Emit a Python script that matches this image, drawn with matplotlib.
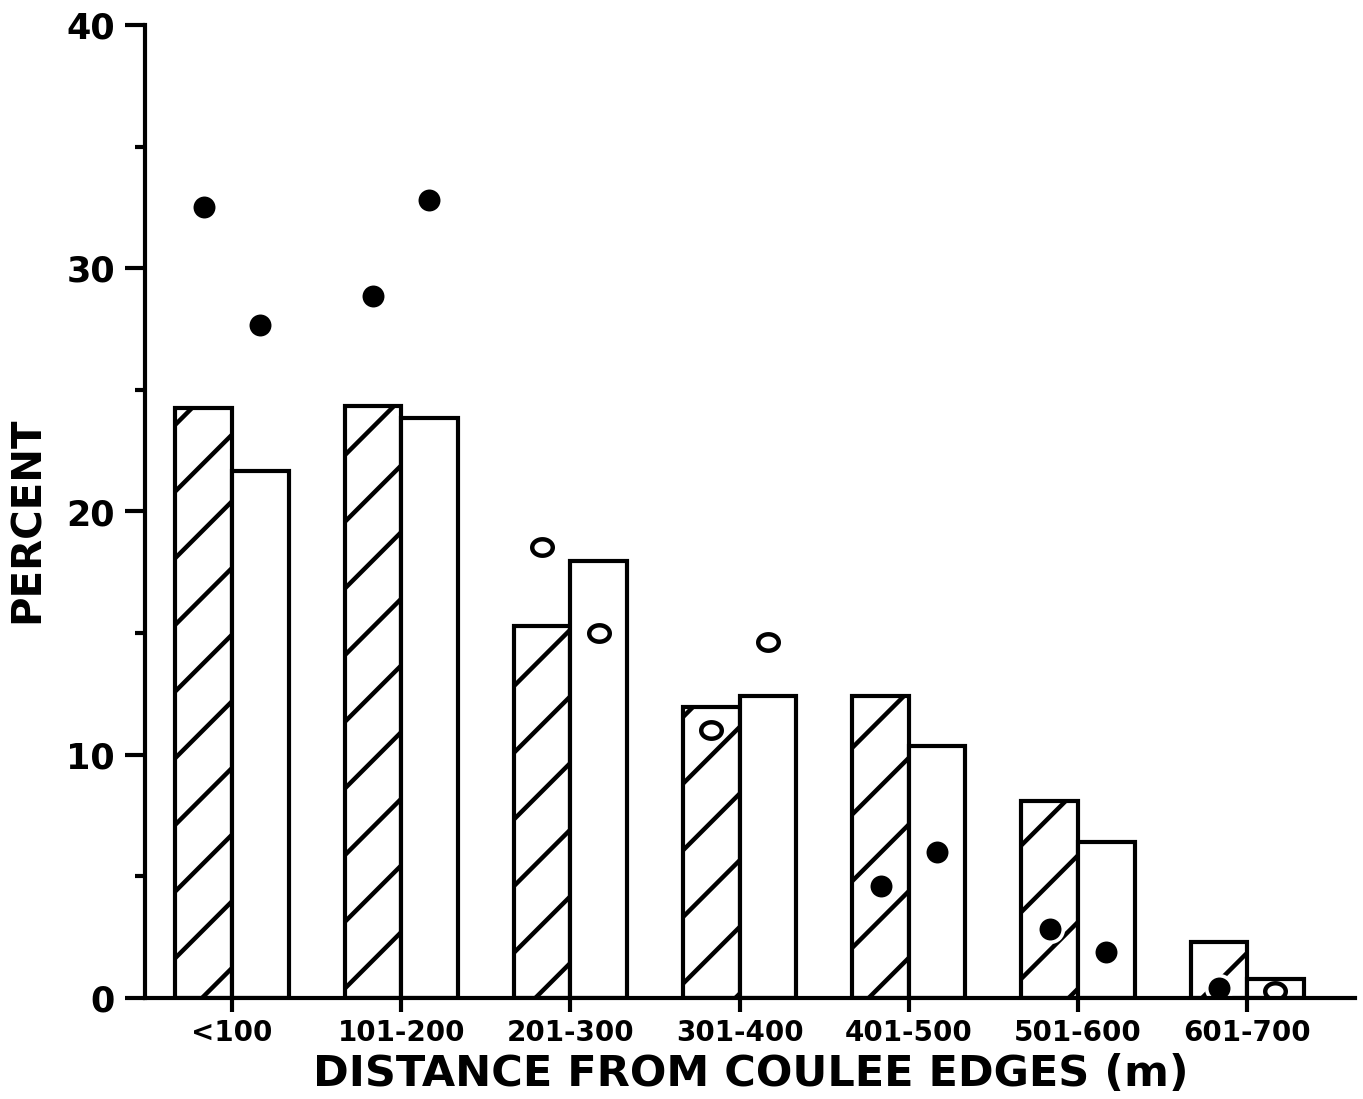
import matplotlib
matplotlib.use("Agg")
import matplotlib.pyplot as plt
import numpy as np
from matplotlib.path import Path

# ---- data ----
categories = ["<100", "101-200", "201-300", "301-400", "401-500", "501-600", "601-700"]
hatched_bars = [24.25, 24.35, 15.3, 11.95, 12.4, 8.1, 2.3]
open_bars = [21.65, 23.85, 17.95, 12.4, 10.35, 6.4, 0.8]
points_hatched_side = [32.5, 28.85, 18.55, 11.0, 4.6, 2.85, 0.4]
points_open_side = [27.65, 32.8, 15.0, 14.65, 6.0, 1.9, 0.3]
filled_hatched_side = [True, True, False, False, True, True, True]
filled_open_side = [True, True, False, False, True, True, False]
y_ticks = [0, 10, 20, 30, 40]

plt.rcParams['font.family'] = ['DejaVu Sans']
plt.rcParams['font.weight'] = 'bold'
plt.rcParams['hatch.linewidth'] = 1.6
plt.rcParams['hatch.color'] = 'black'

DPI = 200
fig = plt.figure(figsize=(1363 / DPI, 1099 / DPI), dpi=DPI)
ax = fig.add_axes([145 / 1363, 1 - 998 / 1099, (1355 - 145) / 1363, (998 - 25) / 1099])

x = np.arange(len(categories))
w = 0.334
lw = 1.5

ax.bar(x - w / 2, hatched_bars, width=w, facecolor='white', edgecolor='black',
       linewidth=lw, hatch='/', zorder=2)
ax.bar(x + w / 2, open_bars, width=w, facecolor='white', edgecolor='black',
       linewidth=lw, zorder=2)

# ellipse marker for open circles
t = np.linspace(0, 2 * np.pi, 60)
ell = Path(np.column_stack([1.25 * np.cos(t), np.sin(t)]), closed=True)


def draw_points(xs, ys, flags):
    for xi, yi, f in zip(xs, ys, flags):
        if f:
            ax.plot(xi, yi, marker='o', linestyle='none', markersize=9.2,
                    markerfacecolor='black', markeredgecolor='white',
                    markeredgewidth=1.3, zorder=4)
        else:
            ax.plot(xi, yi, marker=ell, linestyle='none', markersize=7.4,
                    markerfacecolor='white', markeredgecolor='black',
                    markeredgewidth=1.6, zorder=4)


draw_points(x - w / 2, points_hatched_side, filled_hatched_side)
draw_points(x + w / 2, points_open_side, filled_open_side)

ax.set_xlim((145 - 232) / 169.2, (1355 - 232) / 169.2)
ax.set_ylim(0, 40)

for s in ['top', 'right']:
    ax.spines[s].set_visible(False)
for s in ['left', 'bottom']:
    ax.spines[s].set_linewidth(lw)
    ax.spines[s].set_zorder(5)

ax.set_yticks(y_ticks)
ax.set_yticklabels([str(v) for v in y_ticks], fontsize=12.6, fontweight='bold')
ax.set_yticks([5, 15, 25, 35], minor=True)
ax.tick_params(axis='y', which='major', length=7.2, width=lw, direction='out', pad=3.6)
ax.tick_params(axis='y', which='minor', length=3.6, width=lw, direction='out')

ax.set_xticks(x)
ax.set_xticklabels(categories, fontsize=10, fontweight='bold')
ax.tick_params(axis='x', which='major', length=5, width=lw, direction='out', pad=2.5)

fig.text(28 / 1363, 1 - 520 / 1099, "PERCENT", rotation=90, ha='center', va='center',
         fontsize=14.5, fontweight='bold')
fig.text(751 / 1363, 1 - 1086 / 1099, "DISTANCE FROM COULEE EDGES (m)", ha='center',
         va='baseline', fontsize=15.5, fontweight='bold')

fig.savefig("out.png", dpi=DPI, facecolor='white')
